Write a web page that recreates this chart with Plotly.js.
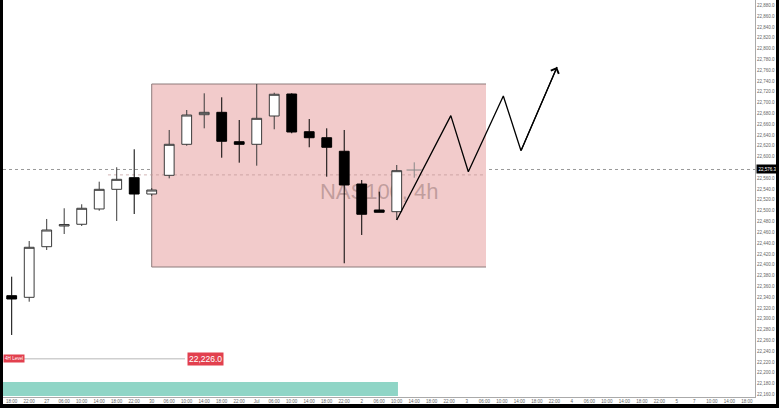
<!DOCTYPE html>
<html>
<head>
<meta charset="utf-8">
<script src="https://cdn.plot.ly/plotly-3.0.1.min.js"></script>
<style>
html,body{margin:0;padding:0;background:#000;width:779px;height:408px;overflow:hidden;}
#chart{position:absolute;left:3px;top:0;width:773px;height:404px;background:#fff;}
</style>
</head>
<body>
<div id="chart"></div>
<script>
// x-axis tick labels (one per 4h bar)
const tickLabels = ["18:00","22:00","27","06:00","10:00","14:00","18:00","22:00","30","06:00",
  "10:00","14:00","18:00","22:00","Jul","06:00","10:00","14:00","18:00","22:00",
  "2","06:00","10:00","14:00","18:00","22:00","3","06:00","10:00","14:00",
  "18:00","22:00","4","06:00","10:00","14:00","18:00","22:00","5","7",
  "10:00","14:00","18:00"];

// price-scale tick values (the 22,580 tick sits under the live-price tag)
const priceTicks = [22160,22180,22200,22220,22240,22260,22280,22300,22320,22340,22360,22380,
  22400,22420,22440,22460,22480,22500,22520,22540,22560,22600,22620,22640,22660,22680,
  22700,22720,22740,22760,22780,22800,22820,22840,22860,22880];

// NAS100 4h candles (bar index 0..22)
const barIndex = [0,1,2,3,4,5,6,7,8,9,10,11,12,13,14,15,16,17,18,19,20,21,22];
const open  = [22342.7,22339.7,22433.4,22471.7,22474.9,22503.2,22539.6,22561.1,22530.9,22565.5,
               22622.9,22677.7,22682.1,22627.7,22622.9,22675.3,22716.0,22646.2,22635.1,22610.0,
               22549.4,22501.3,22498.2];
const high  = [22377.9,22443.9,22484.7,22504.5,22511.9,22553.7,22580.4,22613.7,22542.0,22649.4,
               22686.4,22717.3,22709.9,22667.9,22734.5,22718.4,22717.3,22669.7,22652.5,22649.4,
               22556.8,22535.2,22584.6];
const low   = [22270.0,22331.6,22427.3,22456.9,22471.7,22500.0,22481.0,22493.9,22527.2,22559.9,
               22620.3,22652.5,22598.1,22588.9,22583.3,22650.7,22643.3,22617.4,22563.0,22402.7,
               22455.1,22497.1,22482.8];
const close = [22336.6,22432.3,22464.3,22474.5,22504.5,22539.6,22558.1,22530.9,22538.3,22622.9,
               22677.1,22682.1,22628.5,22622.9,22671.0,22715.5,22645.7,22635.1,22617.4,22547.6,
               22493.4,22497.1,22574.1];

// projected zigzag path
const projX = [22, 25.09, 26.09, 28.09, 29.1, 31.16];
const projY = [22482.8, 22675.9, 22572.2, 22712.3, 22611.1, 22766.0];

// levels
const currentPrice = 22576.3;
const levelPrice = 22226.0;
const boxX = [8.0, 27.1];
const boxY = [22395.8, 22734.5];
const volBand = [22157.1, 22183.0];

const traces = [
  {
    type: 'candlestick',
    x: barIndex, open: open, high: high, low: low, close: close,
    increasing: {line: {color: '#3a3a3a', width: 1}, fillcolor: '#ffffff'},
    decreasing: {line: {color: '#000000', width: 1}, fillcolor: '#000000'},
    whiskerwidth: 0,
    hoverinfo: 'skip', showlegend: false
  },
  {
    type: 'scatter', mode: 'lines', x: projX, y: projY,
    line: {color: '#000', width: 1.3}, hoverinfo: 'skip', showlegend: false
  },
  {
    type: 'scatter', mode: 'markers', x: [23], y: [currentPrice - 1],
    marker: {symbol: 'cross-thin', size: 11, line: {color: '#888', width: 1}},
    hoverinfo: 'skip', showlegend: false
  }
];

const red = '#e2404e';
const layout = {
  width: 773, height: 404,
  margin: {l: 0, r: 21, t: 0, b: 7, pad: 0},
  paper_bgcolor: '#fff', plot_bgcolor: '#fff',
  font: {family: 'Liberation Sans, Arial, sans-serif', color: '#555'},
  showlegend: false,
  hovermode: false,
  boxgap: 0.2,
  xaxis: {
    range: [-0.497, 42.47],
    tickvals: tickLabels.map((_, i) => i), ticktext: tickLabels,
    tickfont: {size: 4.5, color: '#666'}, ticks: '', tickangle: 0,
    showgrid: false, zeroline: false, showline: true, linecolor: '#aaa', linewidth: 1,
    rangeslider: {visible: false}, fixedrange: true
  },
  yaxis: {
    side: 'right', range: [22155.2, 22890.0],
    tickmode: 'array', tickvals: priceTicks, tickformat: ',.1f',
    tickfont: {size: 4.5, color: '#666'}, ticks: '',
    showgrid: false, zeroline: false, showline: true, linecolor: '#aaa', linewidth: 1,
    fixedrange: true
  },
  shapes: [
    {type: 'rect', layer: 'below', xref: 'x', yref: 'y', x0: boxX[0], x1: boxX[1], y0: boxY[0], y1: boxY[1],
     fillcolor: '#f2cbcb', line: {width: 0}},
    {type: 'line', layer: 'below', x0: boxX[0], x1: boxX[1], y0: boxY[1], y1: boxY[1], line: {color: '#8d7b7b', width: 1}},
    {type: 'line', layer: 'below', x0: boxX[0], x1: boxX[1], y0: boxY[0], y1: boxY[0], line: {color: '#8d7b7b', width: 1}},
    {type: 'line', layer: 'below', x0: boxX[0], x1: boxX[0], y0: boxY[0], y1: boxY[1], line: {color: '#8d7b7b', width: 1}},
    {type: 'rect', layer: 'below', x0: 18, x1: 24, y0: 22520, y1: 22560, fillcolor: 'rgba(0,0,0,0)', line: {width: 0},
     label: {text: 'NAS100, 4h', font: {size: 22, color: 'rgba(150,118,118,0.55)', family: 'Liberation Sans, Arial, sans-serif'}, textposition: 'middle center'}},
    {type: 'line', layer: 'below', xref: 'paper', x0: 0, x1: 1, y0: currentPrice, y1: currentPrice,
     line: {color: '#999', width: 1, dash: 'dot'}},
    {type: 'line', layer: 'below', x0: 5.5, x1: boxX[1], y0: currentPrice - 10, y1: currentPrice - 10,
     line: {color: 'rgba(190,150,150,0.7)', width: 1, dash: 'dot'}},
    {type: 'rect', layer: 'below', x0: -0.6, x1: 22.07, y0: volBand[0], y1: volBand[1],
     fillcolor: '#8fd5c6', line: {width: 0}},
    {type: 'line', layer: 'below', x0: 0.7, x1: 9.9, y0: levelPrice, y1: levelPrice,
     line: {color: '#cfcfcf', width: 1.5}}
  ],
  annotations: [
    {x: 31.16, y: projY[5], ax: projX[4], ay: projY[4], xref: 'x', yref: 'y', axref: 'x', ayref: 'y',
     text: '', showarrow: true, arrowhead: 4, arrowsize: 1.4, arrowwidth: 1.2, arrowcolor: '#000'},
    {x: 10.02, y: levelPrice, xref: 'x', yref: 'y', xanchor: 'left', yanchor: 'middle', showarrow: false,
     text: '22,226.0', bgcolor: red, font: {size: 8.5, color: '#fff'}, borderpad: 1},
    {x: 0, y: levelPrice, xref: 'paper', yref: 'y', xanchor: 'left', yanchor: 'middle', showarrow: false,
     text: '4H Level', bgcolor: red, font: {size: 4.6, color: '#fff'}, borderpad: 1},
    {x: 1, xshift: 1, y: currentPrice, xref: 'paper', yref: 'y', xanchor: 'left', yanchor: 'middle', showarrow: false,
     text: '22,576.3', bgcolor: '#000', font: {size: 4.5, color: '#fff'}, borderpad: 1.5}
  ]
};

Plotly.newPlot('chart', traces, layout, {displayModeBar: false, staticPlot: true});
</script>
</body>
</html>
